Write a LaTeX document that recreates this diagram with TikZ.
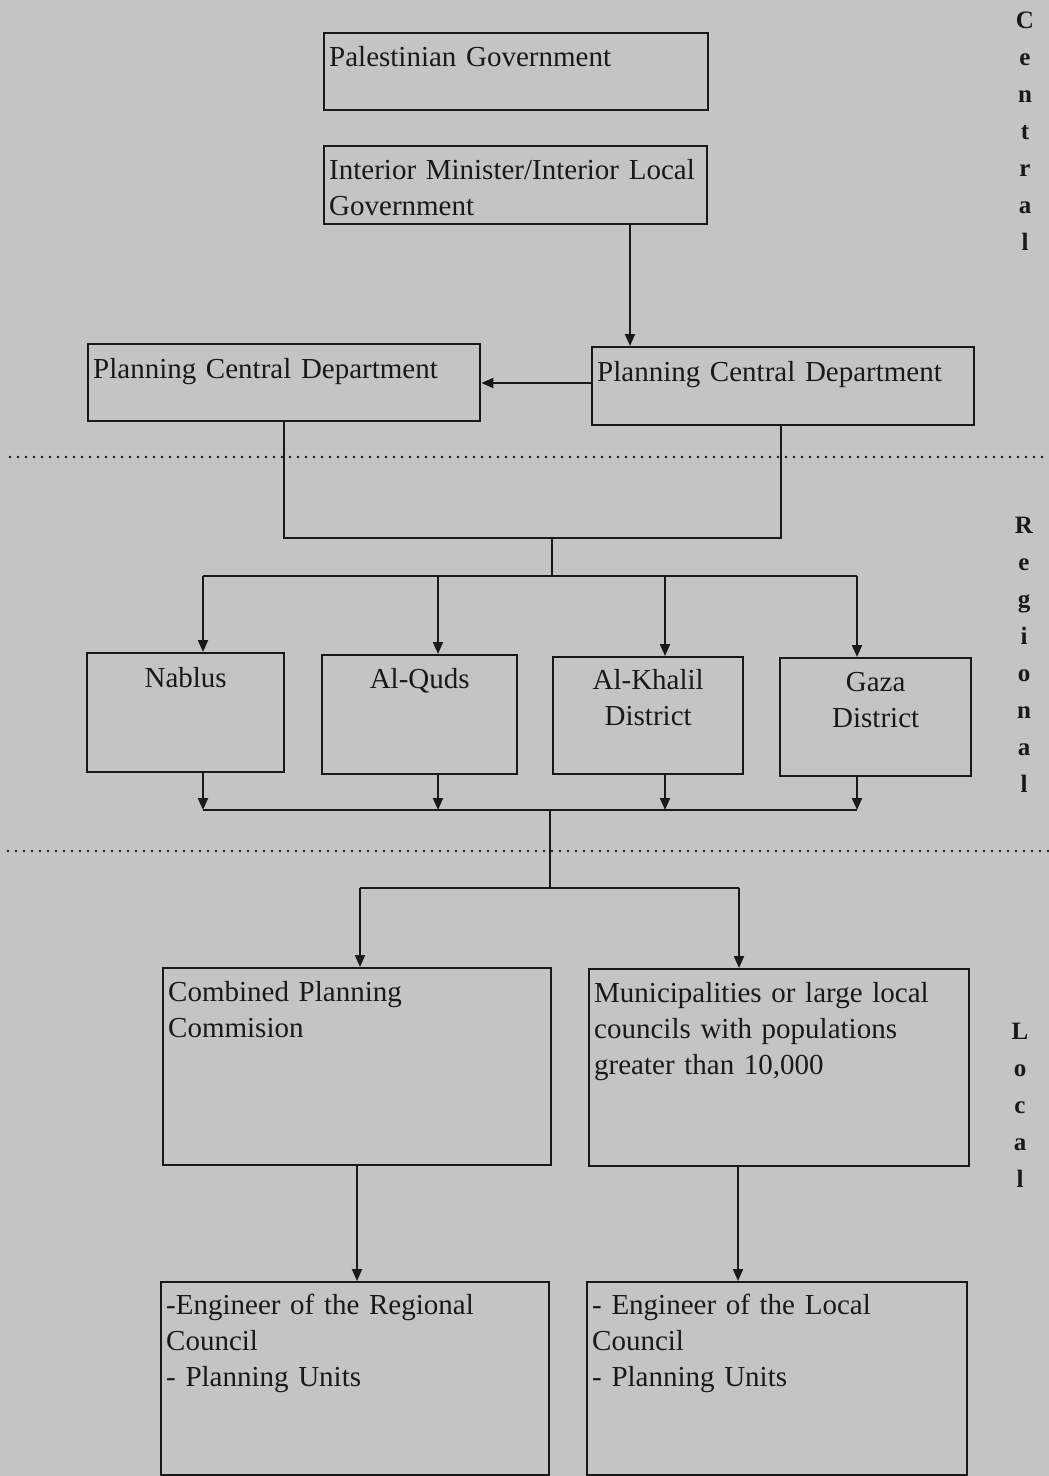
\documentclass[tikz,border=0pt]{standalone}
\usepackage{fontspec}
\setmainfont{Liberation Serif}
\usetikzlibrary{arrows.meta}
\definecolor{bg}{RGB}{196,196,194}
\definecolor{ink}{RGB}{25,25,25}
\newcommand\boxfont{\fontsize{29}{36}\selectfont}
\newcommand\sidefont{\fontsize{25}{37}\selectfont\bfseries}
\begin{document}
\begin{tikzpicture}[x=1pt,y=-1pt,
  box/.style={draw=ink, line width=2.4pt, inner xsep=5pt, inner ysep=0pt, anchor=north west, align=left, font=\boxfont, text=ink},
  cbox/.style={box, align=center},
  conn/.style={draw=ink, line width=2pt},
  arr/.style={conn, -{Triangle[length=12pt,width=10pt]}},
  dots/.style={draw=ink, line width=2.8pt, dash pattern=on 0pt off 8pt, line cap=round},
  side/.style={font=\sidefont, text=ink, align=center, text width=30pt, inner sep=0pt, anchor=base}]
\fill[bg] (0,0) rectangle (1049,1476);
\useasboundingbox (0,0) rectangle (1049,1476);

% dotted separators
\draw[dots] (10,457) -- (1049,457);
\draw[dots] (8,851) -- (1049,851);

% side labels
\node[side] (central) at (1025,28) {C\\e\\n\\t\\r\\a\\l};
\node[side] (regional) at (1024,533) {R\\e\\g\\i\\o\\n\\a\\l};
\node[side] (local) at (1020,1039) {L\\o\\c\\a\\l};

% central level
\node[box, text width=374pt, text height=33pt, text depth=44pt] (pg) at (323,32) {Palestinian Government};
\node[box, text width=373pt, text height=33pt, text depth=45pt] (im) at (323,145) {Interior Minister/Interior Local\\Government};
\node[box, text width=382pt, text height=34pt, text depth=43pt] (pl) at (87,343) {Planning Central Department};
\node[box, text width=372pt, text height=34pt, text depth=44pt] (pr) at (591,346) {Planning Central Department};

% regional level
\node[cbox, text width=187pt, text height=34pt, text depth=85pt] (nab) at (86,652) {Nablus};
\node[cbox, text width=185pt, text height=33pt, text depth=86pt] (qud) at (321,654) {Al-Quds};
\node[cbox, text width=180pt, text height=32pt, text depth=85pt] (kha) at (552,656) {Al-Khalil\\District};
\node[cbox, text width=181pt, text height=33pt, text depth=85pt] (gaz) at (779,657) {Gaza\\District};

% local level
\node[box, text width=378pt, text height=33pt, text depth=164pt] (cpc) at (162,967) {Combined Planning\\Commision};
\node[box, text width=370pt, text height=33pt, text depth=164pt] (mun) at (588,968) {Municipalities or large local\\councils with populations\\greater than 10,000};
\node[box, text width=378pt, text height=32pt, text depth=161pt] (ere) at (160,1281) {-Engineer of the Regional\\Council\\- Planning Units};
\node[box, text width=370pt, text height=32pt, text depth=161pt] (erl) at (586,1281) {- Engineer of the Local\\Council\\- Planning Units};

% helper coordinates
\coordinate (xa) at (630,0);
\coordinate (ya) at (0,383);
\coordinate (j1) at (284,538);
\coordinate (j2) at (781,538);
\coordinate (j3) at (552,538);
\coordinate (j4) at (552,576);
\coordinate (b1) at (203,576);
\coordinate (b2) at (438,576);
\coordinate (b3) at (665,576);
\coordinate (b4) at (857,576);
\coordinate (c1) at (203,810);
\coordinate (c2) at (438,810);
\coordinate (c3) at (665,810);
\coordinate (c4) at (857,810);
\coordinate (d1) at (550,810);
\coordinate (d2) at (550,888);
\coordinate (e1) at (360,888);
\coordinate (e2) at (739,888);
\coordinate (f1) at (357,0);
\coordinate (f2) at (738,0);

% connectors
\draw[arr] (im.south -| xa) -- (pr.north -| xa);
\draw[arr] (pr.west |- ya) -- (pl.east |- ya);
\draw[conn] (pl.south -| j1) -- (j1) -- (j2) -- (pr.south -| j2);
\draw[conn] (j3) -- (j4);
\draw[conn] (b1) -- (b4);
\draw[arr] (b1) -- (nab.north -| b1);
\draw[arr] (b2) -- (qud.north -| b2);
\draw[arr] (b3) -- (kha.north -| b3);
\draw[arr] (b4) -- (gaz.north -| b4);
\draw[arr] (nab.south -| c1) -- (c1);
\draw[arr] (qud.south -| c2) -- (c2);
\draw[arr] (kha.south -| c3) -- (c3);
\draw[arr] (gaz.south -| c4) -- (c4);
\draw[conn] (c1) -- (c4);
\draw[conn] (d1) -- (d2);
\draw[conn] (e1) -- (e2);
\draw[arr] (e1) -- (cpc.north -| e1);
\draw[arr] (e2) -- (mun.north -| e2);
\draw[arr] (cpc.south -| f1) -- (ere.north -| f1);
\draw[arr] (mun.south -| f2) -- (erl.north -| f2);
\end{tikzpicture}
\end{document}
